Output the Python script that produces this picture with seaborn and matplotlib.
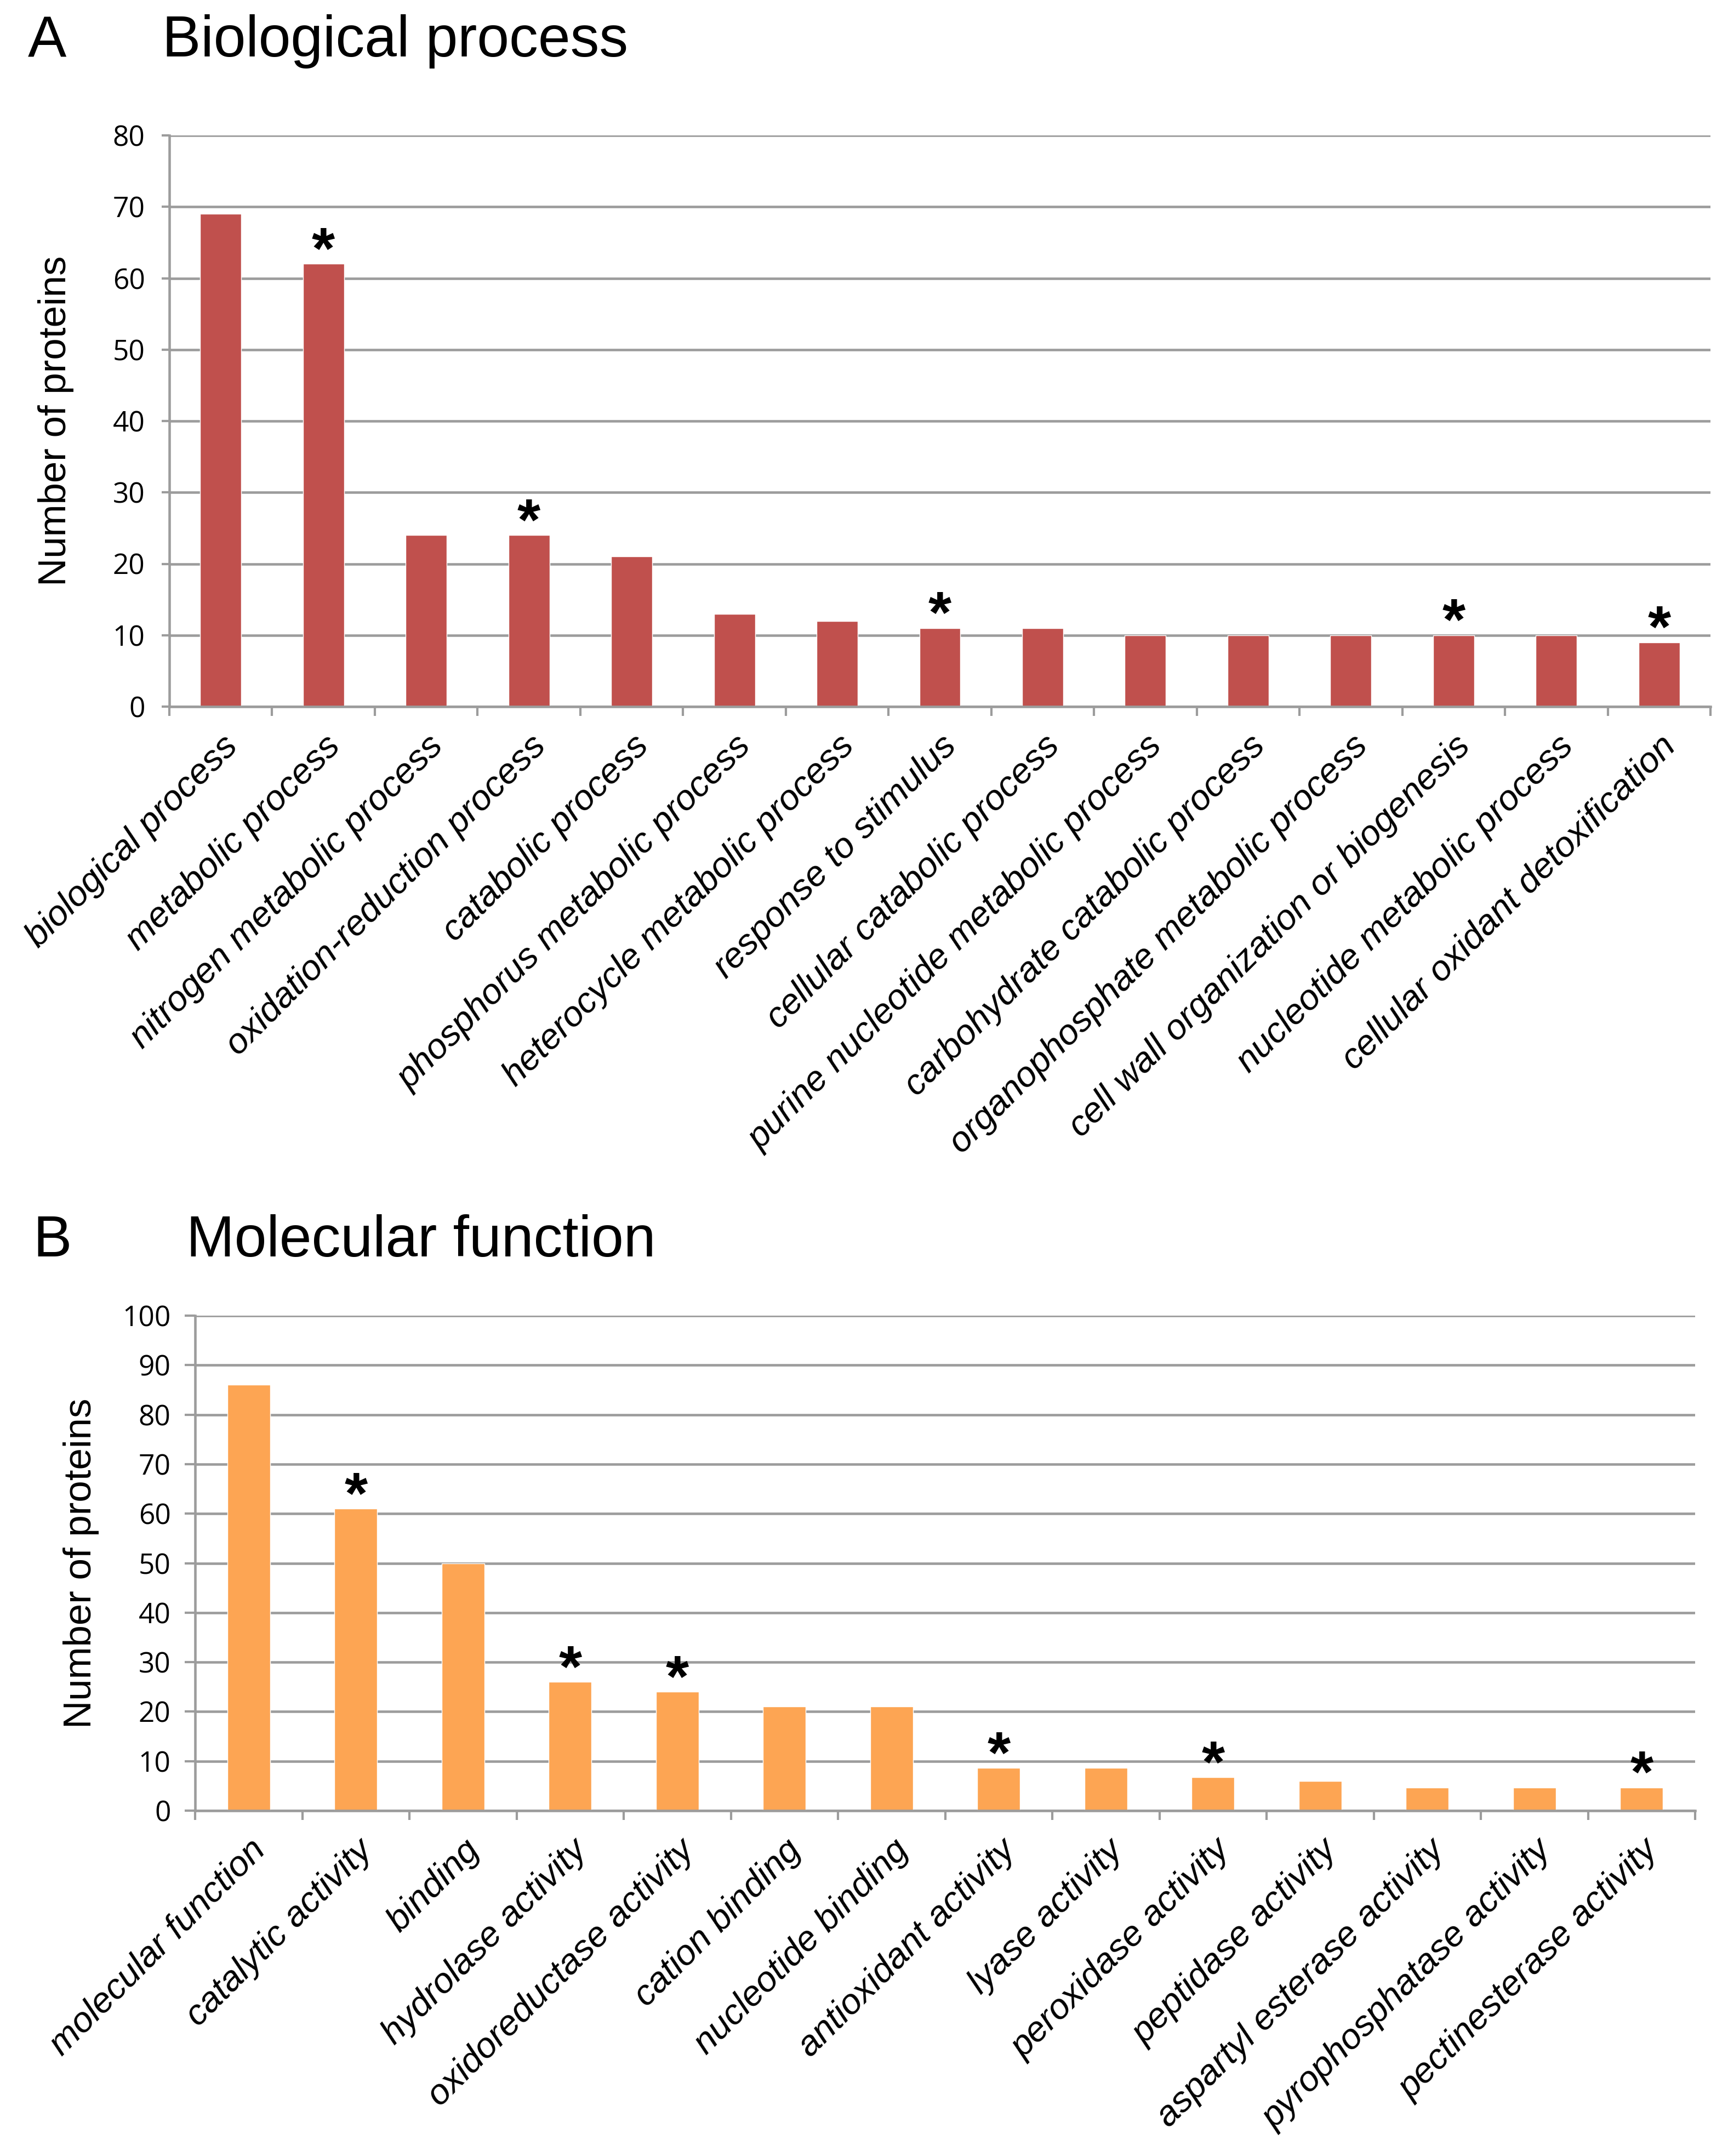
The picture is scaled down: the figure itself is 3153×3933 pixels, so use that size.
import matplotlib
matplotlib.use("Agg")
import matplotlib.pyplot as plt
import seaborn as sns
import numpy as np

# Panel A - biological process
bp_terms = ["biological process", "metabolic process", "nitrogen metabolic process",
            "oxidation-reduction process", "catabolic process", "phosphorus metabolic process",
            "heterocycle metabolic process", "response to stimulus", "cellular catabolic process",
            "purine nucleotide metabolic process", "carbohydrate catabolic process",
            "organophosphate metabolic process", "cell wall organization or biogenesis",
            "nucleotide metabolic process", "cellular oxidant detoxification"]
bp_counts = [69, 62, 24, 24, 21, 13, 12, 11, 11, 10, 10, 10, 10, 10, 9]
bp_star = [0, 1, 0, 1, 0, 0, 0, 1, 0, 0, 0, 0, 1, 0, 1]

# Panel B - molecular function
mf_terms = ["molecular function", "catalytic activity", "binding", "hydrolase activity",
            "oxidoreductase activity", "cation binding", "nucleotide binding",
            "antioxidant activity", "lyase activity", "peroxidase activity",
            "peptidase activity", "aspartyl esterase activity", "pyrophosphatase activity",
            "pectinesterase activity"]
mf_counts = [86, 61, 50, 26, 24, 21, 21, 8.6, 8.6, 6.7, 6, 4.7, 4.7, 4.7]
mf_star = [0, 1, 0, 1, 1, 0, 0, 1, 0, 1, 0, 0, 0, 1]

sns.set_theme(style="white")
plt.rcParams['font.family'] = ['Liberation Sans', 'DejaVu Sans']
plt.rcParams['text.color'] = 'black'
plt.rcParams['axes.labelcolor'] = 'black'
plt.rcParams['xtick.color'] = 'black'
plt.rcParams['ytick.color'] = 'black'

W, H = 3153, 3933
fig = plt.figure(figsize=(W / 100, H / 100), dpi=100)

grid_col = "#9c9c9c"


def draw_panel(box, terms, counts, stars, color, ymax, tick_len, ypad, label_x, star_off):
    left, top, right, bottom = box
    ax = fig.add_axes([left / W, 1 - bottom / H, (right - left) / W, (bottom - top) / H])
    sns.barplot(x=terms, y=counts, color=color, width=0.4, saturation=1, ax=ax)
    ax.set_ylim(0, ymax)
    ax.set_xlim(-0.5, len(terms) - 0.5)
    ax.set_yticks(np.arange(0, ymax + 1, 10))
    ax.set_axisbelow(True)
    ax.yaxis.grid(True, color=grid_col, linewidth=3.3)
    ax.xaxis.grid(False)
    sns.despine(ax=ax, top=True, right=True)
    for side in ["left", "bottom"]:
        ax.spines[side].set_color(grid_col)
        ax.spines[side].set_linewidth(3.3)

    # y ticks
    ax.tick_params(axis="y", left=True, length=tick_len, width=3, color=grid_col,
                   pad=ypad, labelcolor="black")
    for t in ax.get_yticklabels():
        t.set_fontfamily(["Open Sans", "DejaVu Sans"])
        t.set_fontsize(37)

    # category boundary ticks under the axis
    ax.set_xticks(np.arange(-0.5, len(terms), 1.0), minor=True)
    ax.tick_params(axis="x", which="minor", bottom=True, length=12, width=3, color=grid_col)
    ax.tick_params(axis="x", which="major", bottom=False, length=0, pad=30, labelcolor="black")
    ax.set_xticks(range(len(terms)))
    ax.set_xticklabels(terms, rotation=45, ha="right", rotation_mode="anchor",
                       fontsize=47, style="italic")

    ax.set_xlabel("")
    ax.set_ylabel("Number of proteins", fontsize=51, color="black")
    ax.yaxis.set_label_coords(label_x, 0.5)

    # asterisks over significant terms
    for i, (v, s) in enumerate(zip(counts, stars)):
        if s:
            ax.annotate("*", (i, v), xytext=(0, star_off), textcoords="offset points",
                        ha="center", va="bottom", fontsize=78, fontweight="bold", color="black")
    return ax


draw_panel((309, 247, 3121, 1289), bp_terms, bp_counts, bp_star, "#c0504d", 80,
           10, 22, -0.062, -22)
draw_panel((356, 2400, 3093, 3303), mf_terms, mf_counts, mf_star, "#fda553", 100,
           14, 18, -0.064, -22)

# panel letters and titles
fig.text(51 / W, 1 - 103 / H, "A", fontsize=76, va="baseline", ha="left")
fig.text(296 / W, 1 - 103 / H, "Biological process", fontsize=76, va="baseline", ha="left")
fig.text(60 / W, 1 - 2292 / H, "B", fontsize=76, va="baseline", ha="left")
fig.text(340 / W, 1 - 2292 / H, "Molecular function", fontsize=76, va="baseline", ha="left")

fig.savefig("out.png", dpi=100, facecolor="white")
